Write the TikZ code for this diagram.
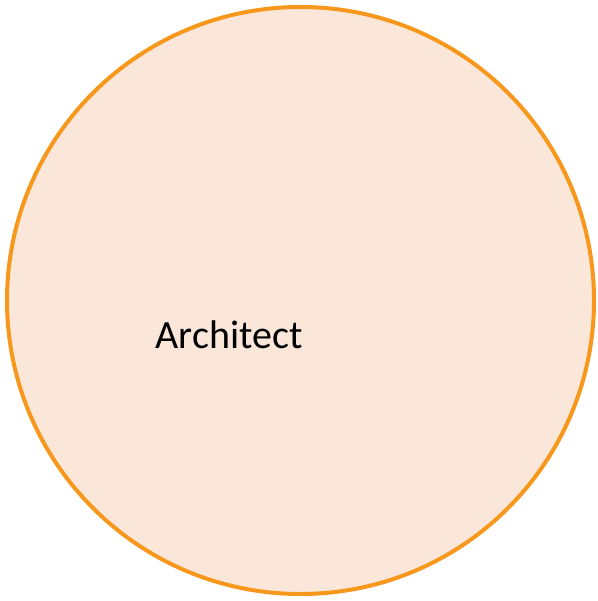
\documentclass[tikz,border=0pt]{standalone}
\usepackage{fontspec}
\setmainfont{Carlito}
\definecolor{ringorange}{HTML}{F7981D}
\definecolor{peach}{HTML}{FBE7DA}
\tikzset{
  rolecircle/.style={circle, draw=ringorange, fill=peach, line width=4pt, minimum size=587pt, inner sep=0pt},
  rolelabel/.style={font=\fontsize{40}{48}\selectfont, text=black, inner sep=0pt}
}
\begin{document}
\begin{tikzpicture}[x=1pt,y=-1pt]
\useasboundingbox (0,0) rectangle (597,601);
\node[rolecircle] (circ) at (300.5,300.5) {};
\node[rolelabel] (lbl) at (229,335) {Architect};
\end{tikzpicture}
\end{document}
